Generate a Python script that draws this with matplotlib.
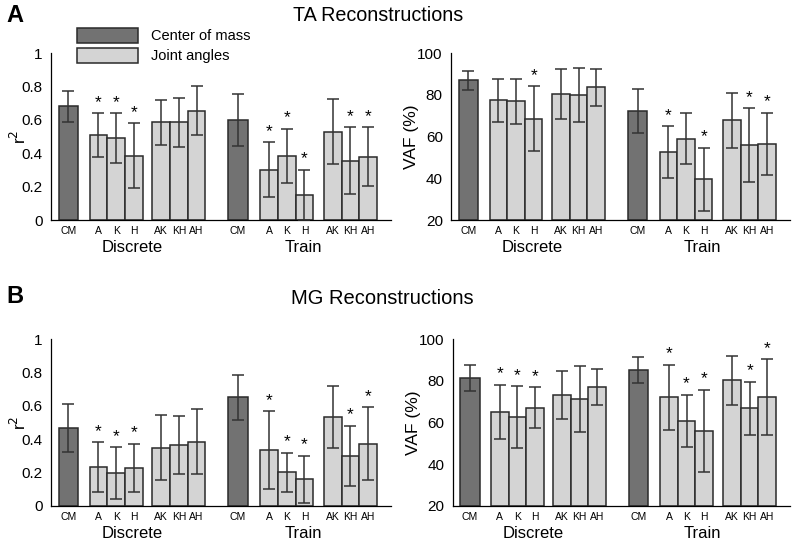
import matplotlib
matplotlib.use("Agg")
import matplotlib.pyplot as plt
from matplotlib.patches import Patch

plt.rcParams['font.family'] = ['Liberation Sans', 'DejaVu Sans']

# categories (discrete group then train group)
cats = ['CM', 'A', 'K', 'H', 'AK', 'KH', 'AH']
groups = ['Discrete', 'Train']

# TA r^2
ta_r2 = [0.68, 0.51, 0.49, 0.385, 0.585, 0.585, 0.655,
         0.60, 0.30, 0.385, 0.15, 0.53, 0.355, 0.38]
ta_r2_err = [0.09, 0.13, 0.15, 0.195, 0.135, 0.148, 0.145,
             0.157, 0.165, 0.163, 0.152, 0.194, 0.20, 0.176]
ta_r2_stars = [1, 2, 3, 8, 9, 10, 12, 13]

# TA VAF
ta_vaf = [86.9, 77.4, 76.8, 68.6, 80.5, 80.0, 83.5,
          72.2, 52.5, 59.0, 39.5, 67.7, 56.0, 56.5]
ta_vaf_err = [4.6, 10.3, 10.8, 15.5, 12.0, 12.8, 9.0,
              10.4, 12.5, 12.3, 15.1, 13.0, 17.6, 14.8]
ta_vaf_stars = [3, 8, 10, 12, 13]

# MG r^2
mg_r2 = [0.468, 0.232, 0.196, 0.23, 0.348, 0.364, 0.386,
         0.65, 0.333, 0.202, 0.16, 0.534, 0.30, 0.374]
mg_r2_err = [0.142, 0.15, 0.155, 0.144, 0.194, 0.174, 0.192,
             0.132, 0.233, 0.118, 0.142, 0.185, 0.18, 0.219]
mg_r2_stars = [1, 2, 3, 8, 9, 10, 12, 13]

# MG VAF
mg_vaf = [81.4, 65.1, 62.5, 67.0, 73.3, 71.2, 76.9,
          85.1, 72.1, 60.9, 56.1, 80.2, 66.8, 72.1]
mg_vaf_err = [6.3, 13.0, 14.8, 9.8, 11.6, 15.7, 8.6,
              6.3, 15.6, 12.4, 19.7, 11.7, 12.8, 18.1]
mg_vaf_stars = [1, 2, 3, 8, 9, 10, 12, 13]

# bar layout (in bar widths)
xpos = [0, 1.7, 2.7, 3.7, 5.25, 6.25, 7.25,
        9.6, 11.35, 12.35, 13.35, 14.95, 15.95, 16.95]
dark = '#727272'
light = '#d4d4d4'


def draw_panel(ax, vals, errs, stars, ylo, yhi, yticks, ylabels, ylabel, labx):
    colors = [dark if i % 7 == 0 else light for i in range(len(vals))]
    widths = [1.1 if i % 7 == 0 else 1.0 for i in range(len(vals))]
    ax.bar(xpos, [v - ylo for v in vals], bottom=ylo, width=widths, color=colors,
           edgecolor='#2a2a2a', linewidth=1.1, zorder=2)
    ax.errorbar(xpos, vals, yerr=errs, fmt='none', ecolor='#333333',
                elinewidth=1.1, capsize=4, capthick=1.1, zorder=3)
    rng = yhi - ylo
    for i in stars:
        ax.text(xpos[i], vals[i] + errs[i] + 0.02 * rng, '*', ha='center',
                va='bottom', fontsize=12.5, zorder=4)
    ax.set_xlim(-0.98, 18.26)
    ax.set_ylim(ylo, yhi)
    ax.set_yticks(yticks)
    ax.set_yticklabels(ylabels, fontsize=11)
    ax.set_xticks(xpos)
    ax.set_xticklabels(cats * 2, fontsize=7.5)
    ax.tick_params(axis='both', length=0)
    ax.tick_params(axis='x', pad=4)
    ax.tick_params(axis='y', pad=6)
    ax.spines['top'].set_visible(False)
    ax.spines['right'].set_visible(False)
    ax.spines['left'].set_linewidth(0.9)
    ax.spines['bottom'].set_linewidth(0.9)
    ax.set_ylabel(ylabel, fontsize=12.5)
    ax.yaxis.set_label_coords(labx, 0.5)
    for g, name in enumerate(groups):
        center = (xpos[g * 7] + xpos[g * 7 + 6]) / 2
        ax.annotate(name, xy=(center, 0), xycoords=('data', 'axes fraction'),
                    xytext=(0, -20), textcoords='offset points',
                    ha='center', va='center', fontsize=12)


fig = plt.figure(figsize=(8.1, 5.51), dpi=100)

r2_ticks = [0, 0.2, 0.4, 0.6, 0.8, 1]
r2_labels = ['0', '0.2', '0.4', '0.6', '0.8', '1']
vaf_ticks = [20, 40, 60, 80, 100]
vaf_labels = ['20', '40', '60', '80', '100']

ax1 = fig.add_axes([0.063, 0.6007, 0.42, 0.303])
draw_panel(ax1, ta_r2, ta_r2_err, ta_r2_stars, 0, 1, r2_ticks, r2_labels, 'r$^2$', -0.065)
ax2 = fig.add_axes([0.557, 0.6007, 0.4185, 0.303])
draw_panel(ax2, ta_vaf, ta_vaf_err, ta_vaf_stars, 20, 100, vaf_ticks, vaf_labels, 'VAF (%)', -0.095)
ax3 = fig.add_axes([0.063, 0.0817, 0.42, 0.303])
draw_panel(ax3, mg_r2, mg_r2_err, mg_r2_stars, 0, 1, r2_ticks, r2_labels, 'r$^2$', -0.065)
ax4 = fig.add_axes([0.559, 0.0817, 0.4165, 0.303])
draw_panel(ax4, mg_vaf, mg_vaf_err, mg_vaf_stars, 20, 100, vaf_ticks, vaf_labels, 'VAF (%)', -0.095)

fig.text(0.467, 0.972, 'TA Reconstructions', ha='center', va='center', fontsize=14.2)
fig.text(0.472, 0.459, 'MG Reconstructions', ha='center', va='center', fontsize=14.5)
fig.text(0.008, 0.972, 'A', ha='left', va='center', fontsize=17, fontweight='bold')
fig.text(0.008, 0.462, 'B', ha='left', va='center', fontsize=17, fontweight='bold')

handles = [Patch(facecolor=dark, edgecolor='#2a2a2a', linewidth=1.1, label='Center of mass'),
           Patch(facecolor=light, edgecolor='#2a2a2a', linewidth=1.1, label='Joint angles')]
fig.legend(handles=handles, loc='upper left', bbox_to_anchor=(0.088, 0.96),
           frameon=False, fontsize=10.5, handlelength=4.2, handleheight=1.2,
           handletextpad=0.9, labelspacing=0.3, borderaxespad=0)

fig.savefig('out.png', dpi=100)
